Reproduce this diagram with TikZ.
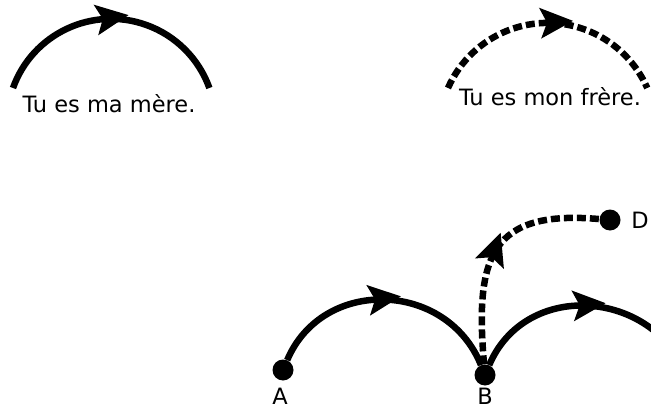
\documentclass[tikz,border=0pt]{standalone}
\usepackage{fontspec}
\setmainfont{DejaVu Sans}
\usetikzlibrary{decorations.markings}
\tikzset{
  arc line/.style={line width=6.5pt},
  dash line/.style={line width=6.5pt, dash pattern=on 9pt off 4pt},
  mid arrow/.style={postaction={decorate,decoration={markings,mark=at position #1 with {\fill[solid] (0pt,15.5pt) -- (33pt,0pt) -- (0pt,-15.5pt) -- (7pt,0pt) -- cycle;}}}},
  dot/.style={circle, fill, inner sep=0pt, minimum size=21pt},
  txt/.style={font=\fontsize{22.5}{27}\selectfont, inner sep=0pt, anchor=base}
}
\begin{document}
\begin{tikzpicture}[x=1pt,y=1pt]
  \useasboundingbox (0,0) rectangle (651,408);
  \clip (0,0) rectangle (651,408);
  % mother
  \coordinate (mereL) at (13,320);
  \draw[arc line, mid arrow=0.44] (mereL) arc[start angle=160.3, end angle=19.7, radius=104.3];
  \node (mere) [txt] at (109,296) {Tu es ma mère.};
  % brother
  \coordinate (frereL) at (448,320);
  \draw[dash line, mid arrow=0.47] (frereL) arc[start angle=156.3, end angle=23.7, radius=108.8];
  \node (frere) [txt] at (550,302) {Tu es mon frère.};
  % points
  \node (A) [dot] at (283,38) {};
  \node (B) [dot] at (485,33) {};
  \node (D) [dot] at (610,188) {};
  \coordinate (C) at (687,33);
  \node (labA) [txt] at (280,4) {A};
  \node (labB) [txt] at (485,4) {B};
  \node (labD) [txt] at (640,180) {D};
  \draw[arc line, mid arrow=0.43] (A) to[out=67,in=112,looseness=1.2] (B);
  \draw[arc line, mid arrow=0.43] (B) to[out=67,in=112,looseness=1.2] (C);
  \draw[dash line, mid arrow=0.44] (B) to[out=95,in=175,looseness=1.5] (D);
\end{tikzpicture}
\end{document}
